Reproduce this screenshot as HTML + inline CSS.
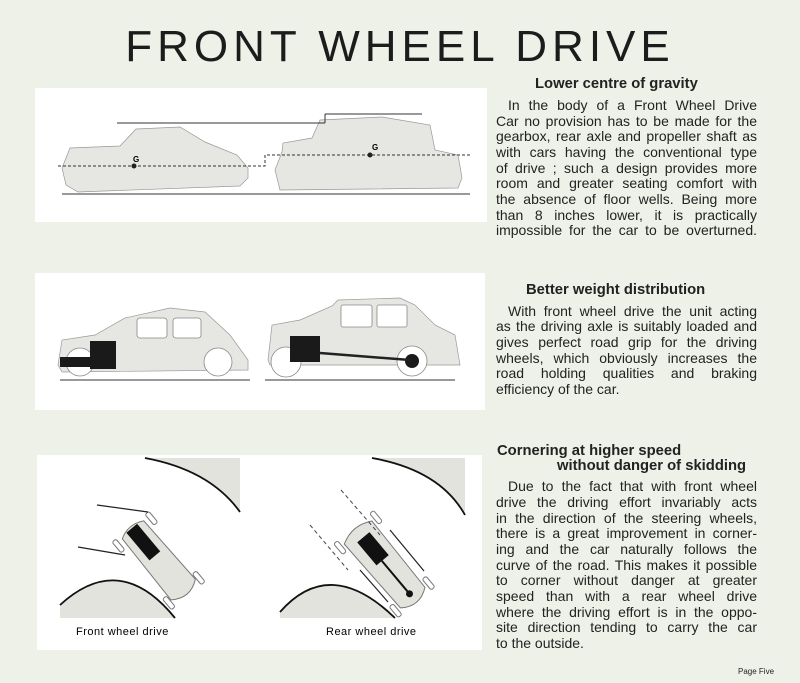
<!DOCTYPE html>
<html><head><meta charset="utf-8"><style>
body{margin:0;width:800px;height:683px;background:#eef1e7;position:relative;overflow:hidden;font-family:"Liberation Sans",sans-serif;color:#222}
.t{position:absolute;left:0;width:800px;text-align:center;top:22px;font-size:44px;letter-spacing:5px;font-weight:normal;color:#1c1c1c}
.box{position:absolute;background:#fff}
.h{position:absolute;font-weight:bold;font-size:14.8px;white-space:nowrap}
.l{position:absolute;left:496px;width:261px;font-size:14px;line-height:16px;text-align:justify;text-align-last:justify;white-space:nowrap}
.l.e{text-align-last:left}
</style></head><body>
<div class="t">FRONT WHEEL DRIVE</div>

<div class="box" style="left:35px;top:88px;width:452px;height:134px"></div>
<div class="box" style="left:35px;top:273px;width:450px;height:137px"></div>
<div class="box" style="left:37px;top:455px;width:445px;height:195px"></div>

<svg style="position:absolute;left:0;top:0" width="800" height="683">
<g fill="#e6e6e2" stroke="#999" stroke-width="0.7">
<path d="M62 168 L70 148 L120 146 L136 129 L180 127 L205 142 L237 155 L248 168 L248 178 L240 186 L78 192 L66 185 Z"/>
<path d="M275 170 L282 152 L283 143 L312 138 L320 120 L382 117 L430 125 L435 150 L458 155 L462 178 L458 188 L280 190 Z"/>
<path d="M58 365 L62 340 L95 335 L125 318 L170 308 L205 312 L230 335 L248 360 L248 370 L62 372 Z"/>
<path d="M268 360 L272 325 L300 320 L332 306 L338 300 L400 298 L415 305 L435 325 L455 335 L460 365 L270 365 Z"/>
</g>
<g fill="#fff" stroke="#888" stroke-width="0.8">
<circle cx="218" cy="362" r="14"/><circle cx="80" cy="362" r="14"/>
<circle cx="286" cy="362" r="15"/><circle cx="412" cy="361" r="15"/>
<rect x="137" y="318" width="30" height="20" rx="3"/><rect x="173" y="318" width="28" height="20" rx="3"/>
<rect x="341" y="305" width="31" height="22" rx="2"/><rect x="377" y="305" width="30" height="22" rx="2"/>
</g>
<g fill="#1a1a1a"><rect x="90" y="341" width="26" height="28"/><rect x="60" y="357" width="34" height="10"/>
<rect x="290" y="336" width="30" height="26"/><circle cx="412" cy="361" r="7"/></g>
<line x1="320" y1="353" x2="410" y2="360" stroke="#222" stroke-width="2.5"/>
<g stroke="#333" stroke-width="1"><line x1="62" y1="194" x2="470" y2="194"/><line x1="117" y1="123" x2="325" y2="123"/><line x1="325" y1="123" x2="325" y2="114"/><line x1="325" y1="114" x2="422" y2="114"/>
<line x1="60" y1="380" x2="250" y2="380"/><line x1="265" y1="380" x2="455" y2="380"/></g>
<g stroke="#333" stroke-width="1" stroke-dasharray="3,2" fill="none"><path d="M58 166 L265 166 L265 155 L470 155"/></g>
<circle cx="134" cy="166" r="2.5" fill="#222"/><circle cx="370" cy="155" r="2.5" fill="#222"/>
<text x="133" y="162" font-size="8" font-weight="bold" font-family="Liberation Sans">G</text>
<text x="372" y="150" font-size="8" font-weight="bold" font-family="Liberation Sans">G</text>
<g fill="#e3e3de" stroke="none">
<path d="M145 458 Q210 470 240 512 L240 458 Z"/><path d="M60 605 Q120 550 175 618 L60 618 Z"/>
<path d="M372 458 Q440 470 465 515 L465 458 Z"/><path d="M280 612 Q330 555 395 618 L280 618 Z"/>
</g>
<g stroke="#111" stroke-width="1.8" fill="none">
<path d="M145 458 Q210 470 240 512"/><path d="M60 605 Q120 550 175 618"/>
<path d="M372 458 Q440 470 465 515"/><path d="M280 612 Q330 555 395 618"/>
</g>
<g transform="translate(160,562) rotate(50)">
<path d="M-42 -14 Q-50 0 -42 14 L36 16 Q48 0 36 -16 Z" fill="#e3e3de" stroke="#777"/>
<rect x="-44" y="-7" width="36" height="14" fill="#111"/>
<rect x="-46" y="-24" width="14" height="5" rx="2" fill="#fff" stroke="#777"/><rect x="-46" y="19" width="14" height="5" rx="2" fill="#fff" stroke="#777"/>
<rect x="30" y="-22" width="14" height="5" rx="2" fill="#fff" stroke="#777"/><rect x="30" y="17" width="14" height="5" rx="2" fill="#fff" stroke="#777"/>
</g>
<g transform="translate(387,567) rotate(50)">
<path d="M-45 -18 Q-55 0 -45 18 L40 16 Q52 0 40 -16 Z" fill="#e3e3de" stroke="#777"/>
<rect x="-38" y="-9" width="30" height="16" fill="#111"/><line x1="-8" y1="0" x2="35" y2="0" stroke="#111" stroke-width="2"/><circle cx="35" cy="0" r="3.5" fill="#111"/>
<rect x="-52" y="-26" width="14" height="5" rx="2" fill="#fff" stroke="#777"/><rect x="-52" y="21" width="14" height="5" rx="2" fill="#fff" stroke="#777"/>
<rect x="32" y="-24" width="14" height="5" rx="2" fill="#fff" stroke="#777"/><rect x="32" y="19" width="14" height="5" rx="2" fill="#fff" stroke="#777"/>
</g>
<g stroke="#222" stroke-width="1.2"><line x1="97" y1="505" x2="148" y2="512"/><line x1="78" y1="547" x2="125" y2="555"/>
<line x1="390" y1="530" x2="424" y2="571"/><line x1="360" y1="570" x2="388" y2="602"/></g>
<g stroke="#444" stroke-width="1" stroke-dasharray="4,3"><line x1="341" y1="490" x2="380" y2="535"/><line x1="310" y1="525" x2="348" y2="570"/></g>
<text x="76" y="635" font-size="11" font-family="Liberation Sans" letter-spacing="0.5">Front wheel drive</text>
<text x="326" y="635" font-size="11" font-family="Liberation Sans" letter-spacing="0.5">Rear wheel drive</text>
</svg>

<div class="h" style="left:535px;top:76px">Lower centre of gravity</div>
<div class="l" style="top:97px;text-indent:12px">In the body of a Front Wheel Drive</div>
<div class="l" style="top:113px">Car no provision has to be made for the</div>
<div class="l" style="top:128px">gearbox, rear axle and propeller shaft as</div>
<div class="l" style="top:144px">with cars having the conventional type</div>
<div class="l" style="top:160px">of drive ; such a design provides more</div>
<div class="l" style="top:175px">room and greater seating comfort with</div>
<div class="l" style="top:191px">the absence of floor wells. Being more</div>
<div class="l" style="top:207px">than 8 inches lower, it is practically</div>
<div class="l" style="top:222px">impossible for the car to be overturned.</div>

<div class="h" style="left:526px;top:282px">Better weight distribution</div>
<div class="l" style="top:303px;text-indent:12px">With front wheel drive the unit acting</div>
<div class="l" style="top:318px">as the driving axle is suitably loaded and</div>
<div class="l" style="top:334px">gives perfect road grip for the driving</div>
<div class="l" style="top:350px">wheels, which obviously increases the</div>
<div class="l" style="top:365px">road holding qualities and braking</div>
<div class="l e" style="top:381px">efficiency of the car.</div>

<div class="h" style="left:497px;top:443px">Cornering at higher speed</div>
<div class="h" style="left:557px;top:458px">without danger of skidding</div>
<div class="l" style="top:478px;text-indent:12px">Due to the fact that with front wheel</div>
<div class="l" style="top:494px">drive the driving effort invariably acts</div>
<div class="l" style="top:510px">in the direction of the steering wheels,</div>
<div class="l" style="top:525px">there is a great improvement in corner-</div>
<div class="l" style="top:541px">ing and the car naturally follows the</div>
<div class="l" style="top:557px">curve of the road. This makes it possible</div>
<div class="l" style="top:572px">to corner without danger at greater</div>
<div class="l" style="top:588px">speed than with a rear wheel drive</div>
<div class="l" style="top:604px">where the driving effort is in the oppo-</div>
<div class="l" style="top:619px">site direction tending to carry the car</div>
<div class="l e" style="top:635px">to the outside.</div>

<div style="position:absolute;left:738px;top:667px;font-size:8px">Page Five</div>
</body></html>
